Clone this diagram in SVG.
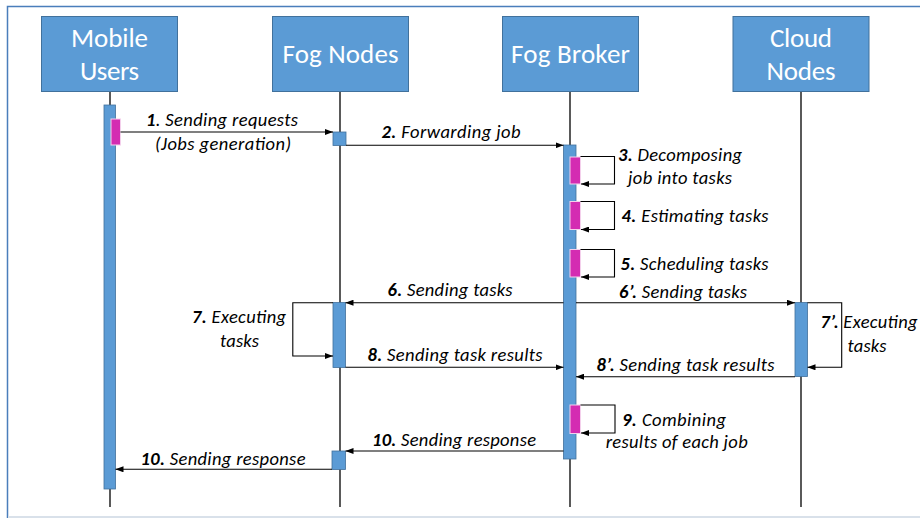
<svg xmlns="http://www.w3.org/2000/svg" width="920" height="518" viewBox="0 0 920 518">
  <defs>
    <style>
      .frame { fill: none; stroke: #4a7ebb; stroke-width: 1.5; }
      .head rect { fill: #5b9bd5; stroke: #41719c; stroke-width: 1; }
      .head text { fill: #ffffff; font-family: Carlito, Lato, "Liberation Sans", sans-serif; font-size: 27px; text-anchor: middle; }
      .life { stroke: #000; stroke-width: 1.3; }
      .bar { fill: #5b9bd5; stroke: #41719c; stroke-width: 0.8; }
      .act { fill: #d42cb2; stroke: #f4d0ec; stroke-width: 1; }
      .msg { fill: none; stroke: #000; stroke-width: 1.1; marker-end: url(#arrow); }
      .lbl { font-family: Carlito, Lato, "Liberation Sans", sans-serif; font-size: 18.5px; font-style: italic; fill: #000; text-anchor: middle; }
      .lbl tspan.n { font-weight: bold; }
    </style>
    <marker id="arrow" viewBox="0 0 8 6" refX="8" refY="3" markerWidth="8" markerHeight="6" markerUnits="userSpaceOnUse" orient="auto">
      <path d="M0,0 L8,3 L0,6 Z" fill="#000"/>
    </marker>
  </defs>

  <rect width="920" height="518" fill="#ffffff"/>
  <!-- outer frame -->
  <path class="frame" d="M7.5,518 V6.5 H920"/>
  <line x1="8" y1="517" x2="920" y2="517" stroke="#d9e1ea" stroke-width="2"/>

  <!-- lifelines -->
  <g id="lifelines">
    <line class="life" x1="110" y1="91" x2="110" y2="507"/>
    <line class="life" x1="340" y1="91" x2="340" y2="507"/>
    <line class="life" x1="570" y1="91" x2="570" y2="507"/>
    <line class="life" x1="801" y1="91" x2="801" y2="507"/>
  </g>

  <!-- participants -->
  <g id="mobile-users" class="head">
    <rect x="41.5" y="16.5" width="136" height="75"/>
    <text x="109.5" y="47" textLength="77">Mobile</text>
    <text x="109.5" y="80" textLength="59">Users</text>
  </g>
  <g id="fog-nodes" class="head">
    <rect x="272.5" y="16.5" width="136" height="75"/>
    <text x="340.5" y="63" textLength="116">Fog Nodes</text>
  </g>
  <g id="fog-broker" class="head">
    <rect x="502.5" y="16.5" width="136" height="75"/>
    <text x="570.5" y="63" textLength="119">Fog Broker</text>
  </g>
  <g id="cloud-nodes" class="head">
    <rect x="733" y="16.5" width="136" height="75"/>
    <text x="801" y="47" textLength="62">Cloud</text>
    <text x="801" y="80" textLength="69">Nodes</text>
  </g>

  <!-- activation bars -->
  <g id="activations">
    <rect class="bar" x="104" y="105" width="11.5" height="384"/>
    <rect class="act" x="111" y="119" width="9.5" height="26"/>
    <rect class="bar" x="333" y="132" width="13" height="13.5"/>
    <rect class="bar" x="563.5" y="145" width="12.5" height="314"/>
    <rect class="act" x="570" y="157" width="10.5" height="27"/>
    <rect class="act" x="570" y="201.5" width="10.5" height="28"/>
    <rect class="act" x="570" y="249.5" width="10.5" height="27.5"/>
    <rect class="act" x="570" y="405" width="10.5" height="28.5"/>
    <rect class="bar" x="333" y="302.5" width="12.5" height="65"/>
    <rect class="bar" x="795" y="302.5" width="12.5" height="74"/>
    <rect class="bar" x="332" y="451" width="13.5" height="18.5"/>
  </g>

  <!-- messages -->
  <g id="connectors">
    <line class="msg" x1="120.5" y1="132" x2="333" y2="132"/>
    <line class="msg" x1="346" y1="145.3" x2="563.5" y2="145.3"/>
    <path class="msg" d="M580.5,156.5 H614.5 V184 H581"/>
    <path class="msg" d="M580.5,201.5 H614.5 V229.5 H581"/>
    <path class="msg" d="M580.5,249.5 H614.5 V277 H581"/>
    <line class="msg" x1="563.5" y1="302.7" x2="345.5" y2="302.7"/>
    <line class="msg" x1="576" y1="302.7" x2="795" y2="302.7"/>
    <path class="msg" d="M333,302.7 H292.8 V356 H333"/>
    <path class="msg" d="M807.5,302.7 H841.7 V367.3 H807.5"/>
    <line class="msg" x1="345.5" y1="367.3" x2="563.5" y2="367.3"/>
    <line class="msg" x1="795" y1="376.7" x2="576" y2="376.7"/>
    <path class="msg" d="M580.5,405 H615 V433 H581"/>
    <line class="msg" x1="563.5" y1="451" x2="345.5" y2="451"/>
    <line class="msg" x1="332" y1="469.3" x2="115.5" y2="469.3"/>
  </g>

  <!-- message labels -->
  <g id="labels">
    <text class="lbl" x="222" y="126" textLength="152"><tspan class="n">1</tspan>. Sending requests</text>
    <text class="lbl" x="223" y="150" textLength="136">(Jobs generation)</text>
    <text class="lbl" x="451" y="138" textLength="139"><tspan class="n">2.</tspan> Forwarding job</text>
    <text class="lbl" x="680" y="161" textLength="124"><tspan class="n">3.</tspan> Decomposing</text>
    <text class="lbl" x="680" y="184" textLength="104">job into tasks</text>
    <text class="lbl" x="695" y="222" textLength="147"><tspan class="n">4.</tspan> Estimating tasks</text>
    <text class="lbl" x="694.5" y="270" textLength="148"><tspan class="n">5.</tspan> Scheduling tasks</text>
    <text class="lbl" x="450" y="296" textLength="125"><tspan class="n">6.</tspan> Sending tasks</text>
    <text class="lbl" x="683" y="298" textLength="128"><tspan class="n">6’.</tspan> Sending tasks</text>
    <text class="lbl" x="239" y="323" textLength="94"><tspan class="n">7.</tspan> Executing</text>
    <text class="lbl" x="239.5" y="347" textLength="39">tasks</text>
    <text class="lbl" x="869" y="328" textLength="97"><tspan class="n">7’.</tspan> Executing</text>
    <text class="lbl" x="867" y="352" textLength="39">tasks</text>
    <text class="lbl" x="455" y="361" textLength="175"><tspan class="n">8.</tspan> Sending task results</text>
    <text class="lbl" x="685.5" y="371" textLength="178"><tspan class="n">8’.</tspan> Sending task results</text>
    <text class="lbl" x="674" y="426" textLength="104"><tspan class="n">9.</tspan> Combining</text>
    <text class="lbl" x="676.7" y="448" textLength="142">results of each job</text>
    <text class="lbl" x="454" y="446" textLength="164"><tspan class="n">10.</tspan> Sending response</text>
    <text class="lbl" x="223" y="465" textLength="165"><tspan class="n">10.</tspan> Sending response</text>
  </g>
</svg>
